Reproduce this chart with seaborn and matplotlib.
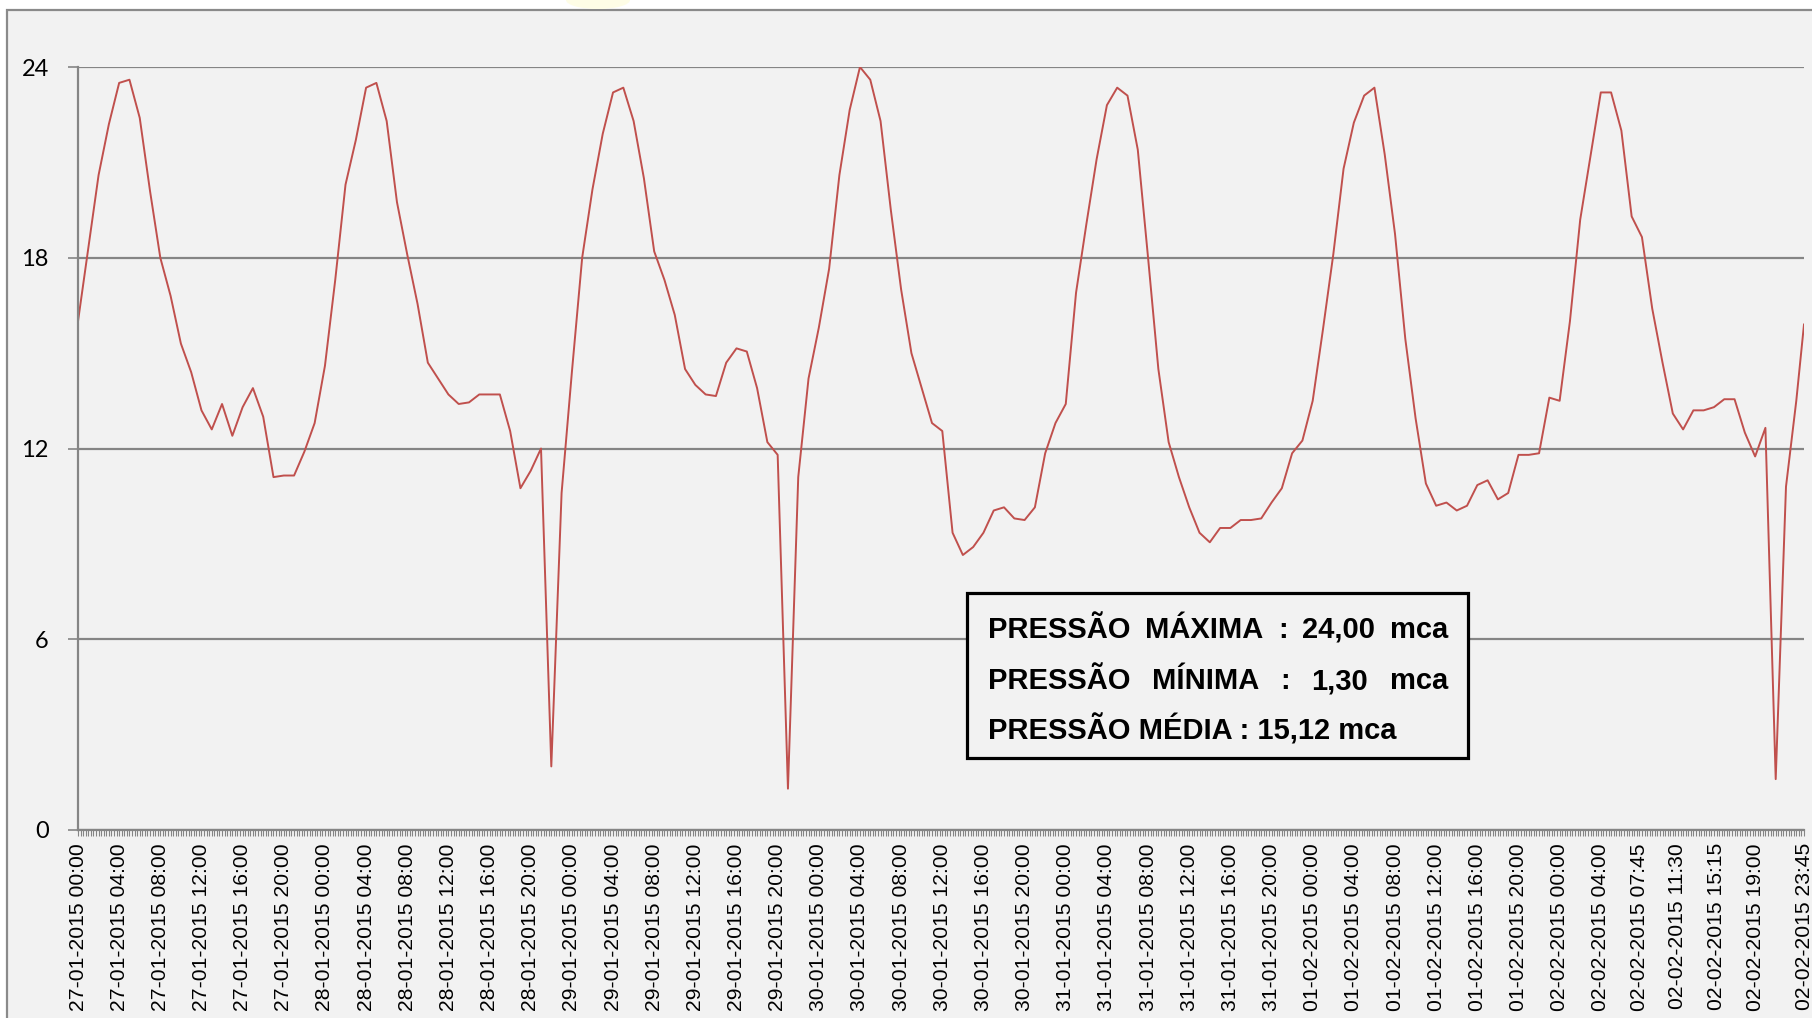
import pandas as pd
import matplotlib
matplotlib.use("Agg")
import matplotlib.pyplot as plt
from matplotlib.patches import Rectangle, Ellipse
import seaborn as sns

# hourly pressure readings (mca), one list per day
start = "2015-01-27 00:00"
day_27_01 = [16.0, 18.3, 20.6, 22.2, 23.5, 23.6, 22.4, 20.1, 18.0, 16.8, 15.3, 14.4,
             13.2, 12.6, 13.4, 12.4, 13.3, 13.9, 13.0, 11.1, 11.15, 11.15, 11.9, 12.8]
day_28_01 = [14.6, 17.3, 20.3, 21.7, 23.35, 23.5, 22.3, 19.75, 18.1, 16.55, 14.7, 14.2,
             13.7, 13.4, 13.45, 13.7, 13.7, 13.7, 12.55, 10.75, 11.3, 12.0, 2.0, 10.6]
day_29_01 = [14.4, 18.0, 20.15, 21.9, 23.2, 23.35, 22.3, 20.5, 18.2, 17.3, 16.2, 14.5,
             14.0, 13.7, 13.65, 14.7, 15.15, 15.05, 13.9, 12.2, 11.8, 1.3, 11.1, 14.2]
day_30_01 = [15.8, 17.65, 20.6, 22.65, 24.0, 23.6, 22.3, 19.5, 17.0, 15.0, 13.9, 12.8,
             12.55, 9.35, 8.65, 8.9, 9.35, 10.05, 10.15, 9.8, 9.75, 10.15, 11.85, 12.8]
day_31_01 = [13.4, 16.9, 19.05, 21.1, 22.8, 23.35, 23.1, 21.4, 18.0, 14.5, 12.2, 11.1,
             10.15, 9.35, 9.05, 9.5, 9.5, 9.75, 9.75, 9.8, 10.3, 10.75, 11.85, 12.25]
day_01_02 = [13.5, 15.75, 18.1, 20.8, 22.25, 23.1, 23.35, 21.25, 18.75, 15.45, 12.95, 10.9,
             10.2, 10.3, 10.05, 10.2, 10.85, 11.0, 10.4, 10.6, 11.8, 11.8, 11.85, 13.6]
day_02_02 = [13.5, 16.0, 19.2, 21.2, 23.2, 23.2, 22.0, 19.3, 18.65, 16.4, 14.7, 13.1,
             12.6, 13.2, 13.2, 13.3, 13.55, 13.55, 12.5, 11.75, 12.65, 1.6, 10.8, 13.5]
last_time = "2015-02-02 23:45"
last_value = 15.9

tick_labels = [
    "27-01-2015 00:00", "27-01-2015 04:00", "27-01-2015 08:00", "27-01-2015 12:00",
    "27-01-2015 16:00", "27-01-2015 20:00",
    "28-01-2015 00:00", "28-01-2015 04:00", "28-01-2015 08:00", "28-01-2015 12:00",
    "28-01-2015 16:00", "28-01-2015 20:00",
    "29-01-2015 00:00", "29-01-2015 04:00", "29-01-2015 08:00", "29-01-2015 12:00",
    "29-01-2015 16:00", "29-01-2015 20:00",
    "30-01-2015 00:00", "30-01-2015 04:00", "30-01-2015 08:00", "30-01-2015 12:00",
    "30-01-2015 16:00", "30-01-2015 20:00",
    "31-01-2015 00:00", "31-01-2015 04:00", "31-01-2015 08:00", "31-01-2015 12:00",
    "31-01-2015 16:00", "31-01-2015 20:00",
    "01-02-2015 00:00", "01-02-2015 04:00", "01-02-2015 08:00", "01-02-2015 12:00",
    "01-02-2015 16:00", "01-02-2015 20:00",
    "02-02-2015 00:00", "02-02-2015 04:00", "02-02-2015 07:45", "02-02-2015 11:30",
    "02-02-2015 15:15", "02-02-2015 19:00", "02-02-2015 23:45",
]
y_ticks = [0, 6, 12, 18, 24]

box_lines = ["PRESSÃO MÁXIMA : 24,00 mca",
             "PRESSÃO MÍNIMA : 1,30 mca",
             "PRESSÃO MÉDIA : 15,12 mca"]

# build the table: x is the sample index on a 15 minute grid
values = day_27_01 + day_28_01 + day_29_01 + day_30_01 + day_31_01 + day_01_02 + day_02_02
t0 = pd.Timestamp(start)
times = list(pd.date_range(t0, periods=len(values), freq="h")) + [pd.Timestamp(last_time)]
df = pd.DataFrame({"time": times, "pressure": values + [last_value]})
step = pd.Timedelta(minutes=15)
df["idx"] = (df["time"] - t0) / step
n_idx = int((pd.Timestamp(last_time) - t0) / step)
tick_pos = [(pd.to_datetime(l, format="%d-%m-%Y %H:%M") - t0) / step for l in tick_labels]

W, H = 1812, 1018
bg = "#f2f2f2"
grid_c = "#858585"

fig = plt.figure(figsize=(W / 100, H / 100), dpi=100, facecolor="white")
fig.patches.append(Rectangle((7 / W, -0.05), 1.2, 1 - 10 / H + 0.05, transform=fig.transFigure,
                             facecolor=bg, edgecolor="#8a8a8a", lw=1.6, zorder=-5))
fig.patches.append(Ellipse((598 / W, 1.0), 64 / W, 18 / H, transform=fig.transFigure,
                           facecolor="#fefde6", edgecolor="none", zorder=-4))

ax = fig.add_axes([78 / W, 1 - 830 / H, (1804 - 78) / W, (830 - 67) / H])
ax.set_facecolor(bg)

sns.lineplot(data=df, x="idx", y="pressure", ax=ax, color="#c0504d", linewidth=1.4)

ax.set_xlim(0, n_idx)
ax.set_ylim(0, 24)
ax.set_yticks(y_ticks)
ax.set_yticklabels([str(v) for v in y_ticks], fontsize=17, family="Lato")
ax.yaxis.grid(True, color=grid_c, lw=1.6)
ax.set_axisbelow(True)

ax.set_xticks(tick_pos)
ax.set_xticklabels(tick_labels, rotation=90, fontsize=15.2, family="Liberation Sans", va="top")
ax.set_xticks(range(n_idx + 1), minor=True)
ax.tick_params(axis="x", which="both", length=4.5, width=0.8, color=grid_c, pad=5)
ax.tick_params(axis="y", length=7, width=1.2, color=grid_c, pad=14)
ax.set_xlabel("")
ax.set_ylabel("")

for side in ["top", "right"]:
    ax.spines[side].set_visible(False)
for side in ["left", "bottom"]:
    ax.spines[side].set_color(grid_c)
    ax.spines[side].set_linewidth(1.6)

# statistics box
fig.patches.append(Rectangle((967 / W, 1 - 758 / H), (1468 - 967) / W, (758 - 593) / H,
                             transform=fig.transFigure, facecolor=bg, edgecolor="black",
                             lw=2.3, zorder=5))
renderer = fig.canvas.get_renderer()
x0, x1 = 988, 1448
line_y = [630, 681, 730]
for k, line in enumerate(box_lines):
    y = 1 - line_y[k] / H
    if k == 2:
        fig.text(x0 / W, y, line, fontsize=21, fontweight="bold", family="Liberation Sans",
                 va="center", ha="left", zorder=6)
        continue
    words = line.split()
    objs = [fig.text(x0 / W, y, w, fontsize=21, fontweight="bold", family="Liberation Sans",
                     va="center", ha="left", zorder=6) for w in words]
    widths = [o.get_window_extent(renderer).width for o in objs]
    gap = (x1 - x0 - sum(widths)) / (len(words) - 1)
    pos = x0
    for o, wd in zip(objs, widths):
        o.set_x(pos / W)
        pos += wd + gap

fig.savefig("out.png", dpi=100, facecolor="white")
